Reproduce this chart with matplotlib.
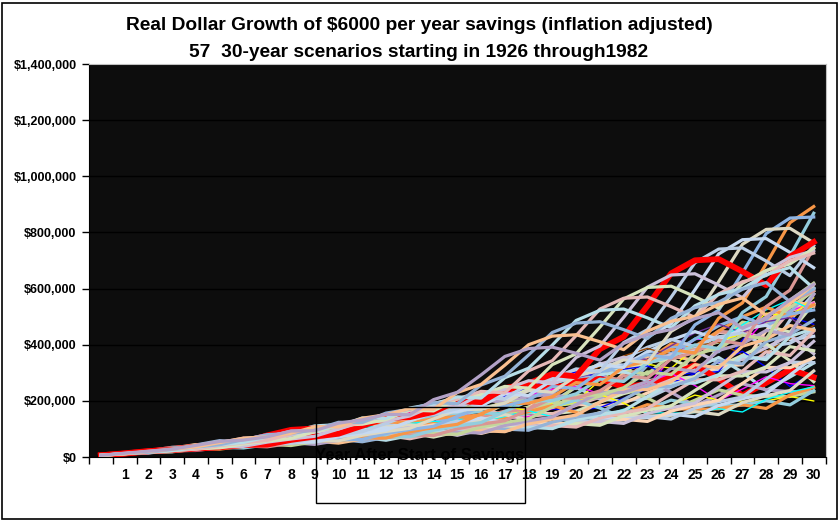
import matplotlib
matplotlib.use('Agg')
import matplotlib.pyplot as plt
from matplotlib.patches import Rectangle
from matplotlib.ticker import FuncFormatter, MultipleLocator

# ---- data: yearly figures behind the 57 scenarios ----
years = list(range(1926, 2012))
# large-company stock total return, % per year
stock_return = [
    11.62, 37.49, 43.61, -8.42, -24.90, -43.34, -8.19, 53.99, -1.44, 47.67,
    33.92, -35.03, 31.12, -0.41, -9.78, -11.59, 20.34, 25.90, 19.75, 36.44,
    -8.07, 5.71, 5.50, 18.79, 31.71, 24.02, 18.37, -0.99, 52.62, 31.56,
    6.56, -10.78, 43.36, 11.96, 0.47, 26.89, -8.73, 22.80, 16.48, 12.45,
    -10.06, 23.98, 11.06, -8.50, 4.01, 14.31, 18.98, -14.66, -26.47, 37.20,
    23.84, -7.18, 6.56, 18.44, 32.42, -4.91, 21.41, 22.51, 6.27, 32.16,
    18.47, 5.23, 16.81, 31.49, -3.17, 30.55, 7.67, 9.99, 1.31, 37.43,
    23.07, 33.36, 28.58, 21.04, -9.11, -11.88, -22.10, 28.68, 10.88, 4.91,
    15.79, 5.49, -37.00, 26.46, 15.06, 2.11,
]
# long-term government bond total return, % per year
bond_return = [
    7.77, 8.93, 0.10, 3.42, 4.66, -5.31, 16.84, -0.07, 10.03, 4.98,
    7.52, 0.23, 5.53, 5.94, 6.09, 0.93, 3.22, 2.08, 2.81, 10.73,
    -0.10, -2.62, 3.40, 6.45, 0.06, -3.93, 1.16, 3.64, 7.19, -1.29,
    -5.59, 7.46, -6.09, -2.26, 13.78, 0.97, 6.89, 1.21, 3.51, 0.71,
    3.65, -9.18, -0.26, -5.07, 12.11, 13.23, 5.69, -1.11, 4.35, 9.20,
    16.75, -0.69, -1.18, -1.23, -3.95, 1.86, 40.36, 0.65, 15.48, 30.97,
    24.53, -2.71, 9.67, 18.11, 6.18, 19.30, 8.05, 18.24, -7.77, 31.67,
    -0.93, 15.85, 13.06, -8.96, 21.48, 3.70, 17.84, 1.45, 8.51, 7.81,
    1.19, 9.88, 25.87, -14.90, 10.14, 27.10,
]
# consumer price inflation, % per year
cpi_inflation = [
    -1.49, -2.08, -0.97, 0.20, -6.03, -9.52, -10.30, 0.51, 2.03, 2.99,
    1.21, 3.10, -2.78, -0.48, 0.96, 9.72, 9.29, 3.16, 2.11, 2.25,
    18.16, 9.01, 2.71, -1.80, 5.79, 5.87, 0.88, 0.62, -0.50, 0.37,
    2.86, 3.02, 1.76, 1.50, 1.48, 0.67, 1.22, 1.65, 1.19, 1.92,
    3.35, 3.04, 4.72, 6.11, 5.49, 3.36, 3.41, 8.80, 12.20, 7.01,
    4.81, 6.77, 9.03, 13.31, 12.40, 8.94, 3.87, 3.80, 3.95, 3.77,
    1.13, 4.41, 4.42, 4.65, 6.11, 3.06, 2.90, 2.75, 2.67, 2.54,
    3.32, 1.70, 1.61, 2.68, 3.39, 1.55, 2.38, 1.88, 3.26, 3.42,
    2.54, 4.08, 0.09, 2.72, 1.50, 2.96,
]
stock_share = 0.6
savings = 6000
start_years = list(range(1926, 1983))
highlight_years = [1948, 1975]   # the two thick red scenarios
n_years = 30
x_labels = [''] + [str(i) for i in range(1, 31)]

title_1 = 'Real Dollar Growth of $6000 per year savings (inflation adjusted)'
title_2 = '57  30-year scenarios starting in 1926 through1982'
x_title = 'Year After Start of Savings'

pastel = ['#B9CDE5', '#FCD5B5', '#CCC1DA', '#D7E4BD', '#E6B9B8', '#B7DEE8',
          '#95B3D7', '#FAC090', '#B3A2C7', '#C3D69B', '#D99694', '#93CDDD',
          '#F79646', '#8EB4E3', '#DDD9C3', '#C6D9F1']
bright = ['#0000FF', '#FF00FF', '#FFFF00', '#00FFFF', '#7030A0', '#984807']

# real yearly return of a 60/40 stock/bond mix
real = []
for s_r, b_r, i_r in zip(stock_return, bond_return, cpi_inflation):
    mix = stock_share * s_r + (1 - stock_share) * b_r
    real.append((1 + mix / 100) / (1 + i_r / 100) - 1)


def scenario(start):
    k0 = years.index(start)
    vals = [savings]
    for k in range(n_years):
        vals.append(vals[-1] * (1 + real[k0 + k]) + savings)
    return vals


plt.rcParams['font.family'] = ['Liberation Sans', 'DejaVu Sans']
plt.rcParams['font.weight'] = 'bold'

fig = plt.figure(figsize=(8.38, 5.21), dpi=100)
ax = fig.add_axes([89 / 838, 64 / 521, (825.6 - 89) / 838, (457 - 64) / 521])
ax.set_facecolor('#0d0d0d')

xs = list(range(n_years + 1))
for j, s in enumerate(start_years):
    vals = scenario(s)
    if s in highlight_years:
        c, lw = '#FF0000', 4.2
    elif s < 1958 and j % 3 == 2:
        c, lw = bright[(j // 3) % len(bright)], 1.0
    else:
        c, lw = pastel[j % len(pastel)], 2.3
    ax.plot(xs, vals, color=c, lw=lw, zorder=3)

ax.set_xlim(-0.5, 30.5)
ax.set_ylim(0, 1400000)
ax.yaxis.set_major_locator(MultipleLocator(200000))
ax.yaxis.set_major_formatter(FuncFormatter(lambda v, p: '${:,.0f}'.format(v)))
ax.grid(axis='y', color='#000000', lw=1, zorder=1)
ax.set_axisbelow(True)

ax.set_xticks(xs)
ax.set_xticklabels(x_labels)
ax.set_xticks([i - 0.5 for i in range(n_years + 2)], minor=True)
ax.tick_params(axis='x', which='major', length=0, pad=8, labelsize=10)
ax.tick_params(axis='x', which='minor', length=5, width=1, direction='out')
ax.tick_params(axis='y', length=5, width=1, direction='out', labelsize=9, pad=4)

for side in ('left', 'bottom'):
    ax.spines[side].set_color('black')
for side in ('top', 'right'):
    ax.spines[side].set_color('#c0c0c0')

fig.text(0.5, 1 - 29.5 / 521, title_1, ha='center', va='baseline', fontsize=13.8)
fig.text(0.5, 1 - 56.7 / 521, title_2, ha='center', va='baseline', fontsize=13.8)
fig.text(420 / 838, 1 - 460 / 521, x_title, ha='center', va='baseline',
         fontsize=12, color='black', zorder=10)
fig.patches.append(Rectangle((316 / 838, 1 - 503 / 521), 209 / 838, 96 / 521,
                             transform=fig.transFigure, fill=False,
                             edgecolor='black', lw=1, zorder=10))
fig.patches.append(Rectangle((1.5 / 838, 2.5 / 521), 835 / 838, 516 / 521,
                             transform=fig.transFigure, fill=False,
                             edgecolor='black', lw=1.2))

fig.savefig('out.png', dpi=100)
